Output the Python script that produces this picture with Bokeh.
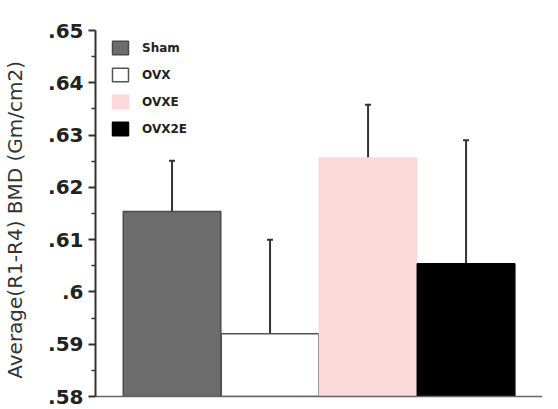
from bokeh.plotting import figure
from bokeh.models import FixedTicker, Whisker, TeeHead, ColumnDataSource, Legend, LegendItem
from bokeh.embed import file_html
from bokeh.resources import INLINE

groups = ["Sham", "OVX", "OVXE", "OVX2E"]
means = [0.6154, 0.5920, 0.6256, 0.6054]
errors = [0.0097, 0.0180, 0.0102, 0.0236]
colors = ["#6c6c6c", "#ffffff", "#fbd8d9", "#000000"]
outlines = ["#4a4a4a", "#555555", "#fbd8d9", "#000000"]
y_ticks = [0.58, 0.59, 0.60, 0.61, 0.62, 0.63, 0.64, 0.65]
y_tick_labels = [".58", ".59", ".6", ".61", ".62", ".63", ".64", ".65"]
y_label = "Average(R1-R4) BMD (Gm/cm2)" + "\u00a0" * 2

xs = [i + 1 for i in range(len(groups))]
src = ColumnDataSource(dict(
    x=xs, top=means, color=colors, line=outlines,
    upper=[m + e for m, e in zip(means, errors)], group=groups,
))

p = figure(width=542, height=409, output_backend="svg", toolbar_location=None,
           x_range=(0.219, 4.78), y_range=(0.58, 0.65),
           min_border_left=87, min_border_top=30, min_border_right=0, min_border_bottom=13)
p.outline_line_color = None
p.xgrid.visible = False
p.ygrid.visible = False

bars = p.vbar(x="x", top="top", bottom=0.58, width=0.995, fill_color="color",
              line_color="line", line_width=1.5, source=src)

wh = Whisker(base="x", upper="upper", lower="top", source=src,
             line_color="#333333", line_width=2,
             upper_head=TeeHead(size=6, line_color="#333333", line_width=2),
             lower_head=None)
p.add_layout(wh)

# y axis
p.yaxis.ticker = FixedTicker(ticks=y_ticks,
                             minor_ticks=[t + 0.005 for t in y_ticks[:-1]])
p.yaxis.major_label_overrides = {t: l for t, l in zip(y_ticks, y_tick_labels)}
p.yaxis.major_label_text_font = "DejaVu Sans"
p.yaxis.major_label_text_font_style = "bold"
p.yaxis.major_label_text_font_size = "20px"
p.yaxis.major_label_text_color = "#222222"
p.yaxis.major_label_standoff = 5
p.yaxis.major_tick_out = 7
p.yaxis.major_tick_in = 0
p.yaxis.minor_tick_out = 4
p.yaxis.minor_tick_in = 0
p.yaxis.axis_line_color = "#333333"
p.yaxis.axis_line_width = 2
p.yaxis.major_tick_line_color = "#333333"
p.yaxis.major_tick_line_width = 2
p.yaxis.minor_tick_line_color = "#333333"
p.yaxis.minor_tick_line_width = 1.5
p.yaxis.axis_label = y_label
p.yaxis.axis_label_text_font = "DejaVu Sans"
p.yaxis.axis_label_text_font_style = "normal"
p.yaxis.axis_label_text_font_size = "20px"
p.yaxis.axis_label_text_color = "#333333"
p.yaxis.axis_label_standoff = 18

# x axis: baseline only
p.xaxis.ticker = FixedTicker(ticks=[])
p.xaxis.major_label_text_font_size = "0px"
p.xaxis.major_tick_line_color = None
p.xaxis.minor_tick_line_color = None
p.xaxis.axis_line_color = "#666666"
p.xaxis.axis_line_width = 1.5

items = []
for i, g in enumerate(groups):
    items.append(LegendItem(label=g, renderers=[bars], index=i))
legend = Legend(items=items, location=(15, 259), margin=0, padding=0,
                glyph_width=20, glyph_height=17, spacing=10, label_standoff=12,
                label_text_font="DejaVu Sans", label_text_font_style="bold",
                label_text_font_size="12px", label_text_color="#222222",
                border_line_alpha=0, background_fill_alpha=0)
p.add_layout(legend)

open("out.html", "w").write(file_html(p, INLINE))
